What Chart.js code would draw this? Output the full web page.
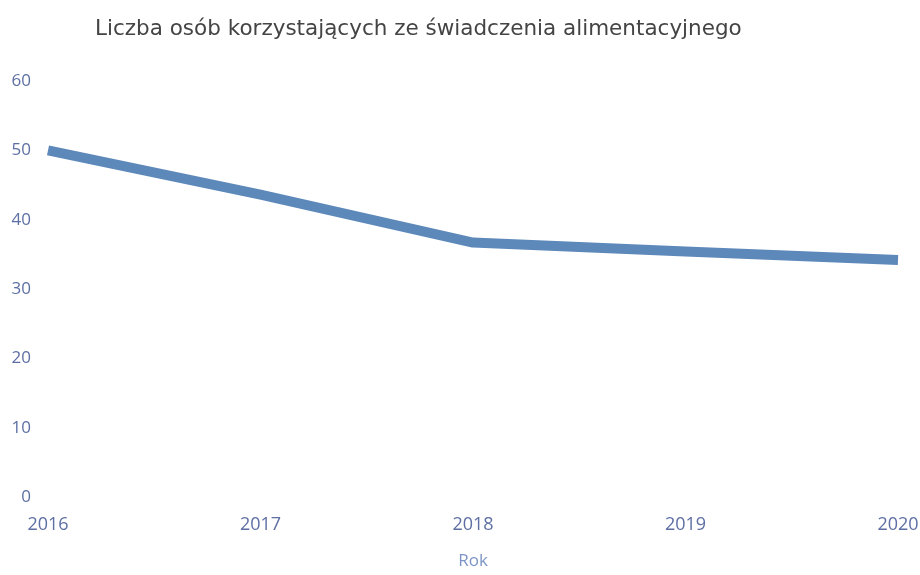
<!DOCTYPE html>
<html>
<head>
<meta charset="utf-8">
<script src="https://cdn.jsdelivr.net/npm/chart.js@4"></script>
<style>
  body { margin: 0; background: #fff; }
  .wrap { position: relative; width: 920px; height: 575px; }
  .title {
    position: absolute; left: 95px; top: 15px;
    font-family: "DejaVu Sans", sans-serif; font-size: 21.5px; color: #444;
    white-space: nowrap;
  }
  canvas { display: block; }
</style>
</head>
<body>
<div class="wrap">
  <div class="title">Liczba osób korzystających ze świadczenia alimentacyjnego</div>
  <canvas id="alimentChart" width="920" height="575"></canvas>
</div>
<script>
// dane: liczba osób w kolejnych latach
const lata = ['2016', '2017', '2018', '2019', '2020'];
const liczbaOsob = [50, 43.6, 36.7, 35.4, 34.2];
const osY = [0, 10, 20, 30, 40, 50, 60];

const ctx = document.getElementById('alimentChart');
new Chart(ctx, {
    type: 'line',
    data: {
        labels: lata,
        datasets: [{
            label: 'Liczba osób',
            data: liczbaOsob,
            borderColor: '#5d88ba',
            borderWidth: 10,
            borderCapStyle: 'butt',
            borderJoinStyle: 'round',
            pointRadius: 0,
            tension: 0,
            fill: false
        }]
    },
    options: {
        responsive: false,
        animation: false,
        layout: { padding: { top: 81, right: 0, left: 0, bottom: 0 } },
        plugins: { legend: { display: false }, tooltip: { enabled: false } },
        scales: {
            x: {
                offset: false,
                grid: { display: false },
                border: { display: false },
                ticks: {
                    color: '#5d6fa3',
                    padding: 9,
                    maxRotation: 0,
                    font: { family: 'Open Sans', size: 18 }
                },
                title: {
                    display: true,
                    text: 'Rok',
                    color: '#7d95c6',
                    padding: { top: 10, bottom: 4 },
                    font: { family: 'Open Sans', size: 17 }
                },
                afterFit: (scale) => {
                    scale.height = 78;
                    scale.paddingLeft = 0;
                    scale.paddingRight = 22;
                }
            },
            y: {
                min: 0,
                max: 60,
                afterBuildTicks: (scale) => { scale.ticks = osY.map(v => ({ value: v })); },
                grid: { display: false },
                border: { display: false },
                ticks: {
                    color: '#5d6fa3',
                    padding: 9,
                    font: { family: 'Open Sans', size: 17 }
                },
                afterFit: (scale) => { scale.width = 48; }
            }
        }
    }
});
</script>
</body>
</html>
